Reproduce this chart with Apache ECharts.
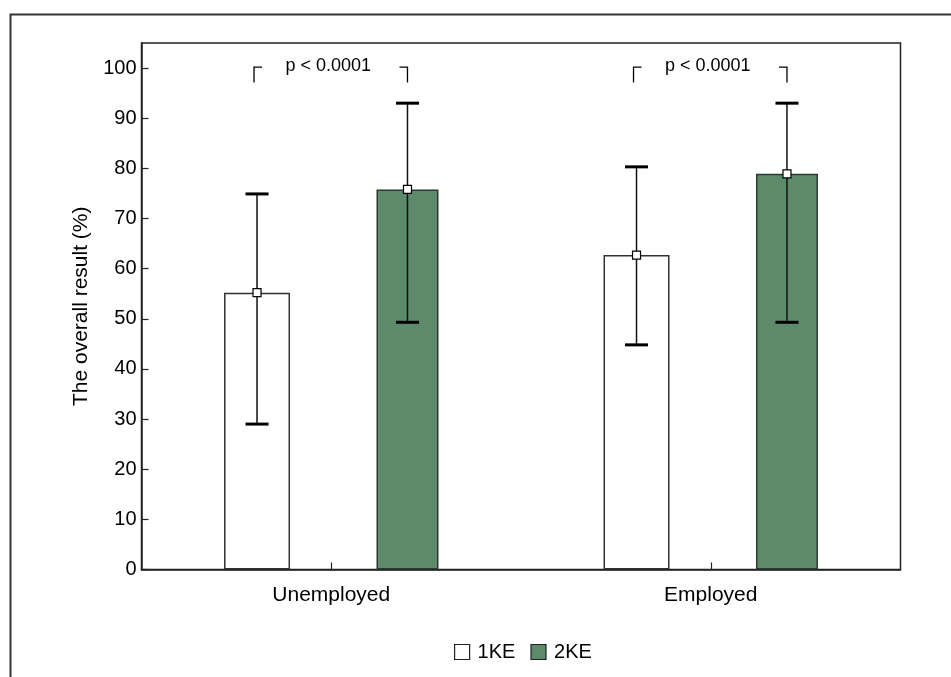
<!DOCTYPE html>
<html><head><meta charset="utf-8">
<script src="https://cdn.jsdelivr.net/npm/echarts@6/dist/echarts.min.js"></script>
<style>html,body{margin:0;padding:0;background:#fff}#c{width:951px;height:677px}</style>
</head><body><div id="c"></div>
<script>
// ---- data ----
const categories = ['Unemployed', 'Employed'];
const seriesNames = ['1KE', '2KE'];
const mean1KE = [55.2, 62.7];
const low1KE = [29.0, 44.8];
const high1KE = [74.9, 80.3];
const mean2KE = [75.8, 78.9];
const low2KE = [49.3, 49.3];
const high2KE = [93.0, 93.0];
const pLabels = ['p < 0.0001', 'p < 0.0001'];
const bracketTop = [100.2, 100.2];
const bracketBottom = [97.1, 97.1];
const yTicks = [0, 10, 20, 30, 40, 50, 60, 70, 80, 90, 100];

// ---- style ----
const FONT = '"Liberation Sans", Arial, Helvetica, sans-serif';
const GREEN = '#5c8a6b';
const barWidths = [66, 62];
const barGap = 1.31;
function barOffset(k) {
  const total = barWidths[0] * (1 + barGap) + barWidths[1];
  let off = -total / 2;
  for (let i = 0; i < k; i++) off += barWidths[i] * (1 + barGap);
  return off + barWidths[k] / 2;
}

function errSeries(k, lows, highs, means) {
  return {
    type: 'custom',
    z: 5,
    silent: true,
    encode: { x: 0, y: [1, 2, 3] },
    data: categories.map((c, i) => [i, lows[i], highs[i], means[i]]),
    renderItem(params, api) {
      const i = api.value(0);
      const pl = api.coord([i, api.value(1)]);
      const ph = api.coord([i, api.value(2)]);
      const pm = api.coord([i, api.value(3)]);
      const x = pl[0] + barOffset(k);
      const cw = 11.5;
      return {
        type: 'group',
        children: [
          { type: 'line', shape: { x1: x, y1: ph[1], x2: x, y2: pl[1] }, style: { stroke: '#111', lineWidth: 1.5 } },
          { type: 'line', shape: { x1: x - cw, y1: ph[1], x2: x + cw, y2: ph[1] }, style: { stroke: '#000', lineWidth: 3 } },
          { type: 'line', shape: { x1: x - cw, y1: pl[1], x2: x + cw, y2: pl[1] }, style: { stroke: '#000', lineWidth: 3 } },
          { type: 'rect', shape: { x: x - 4, y: pm[1] - 4, width: 8, height: 8 }, style: { fill: '#fff', stroke: '#000', lineWidth: 1.2 } }
        ]
      };
    }
  };
}

const chart = echarts.init(document.getElementById('c'), null, { renderer: 'canvas' });
chart.setOption({
  animation: false,
  backgroundColor: '#fff',
  textStyle: { fontFamily: FONT },
  graphic: [{
    type: 'polyline',
    shape: { points: [[10.5, 677], [10.5, 14.5], [951, 14.5]] },
    style: { stroke: '#333', lineWidth: 2, fill: null }
  }],
  grid: { left: 141.5, right: 50.5, top: 43, bottom: 107.5, show: true, borderColor: '#222', borderWidth: 1.5, backgroundColor: 'transparent' },
  legend: {
    data: seriesNames,
    left: 449, top: 637,
    icon: 'rect', itemWidth: 15, itemHeight: 15, itemGap: 15,
    itemStyle: { borderColor: '#222', borderWidth: 1.2 },
    textStyle: { fontSize: 20, color: '#000', fontFamily: FONT, padding: [0, 0, 0, 3] }
  },
  xAxis: {
    type: 'category',
    data: categories,
    axisLine: { show: true, lineStyle: { color: '#222', width: 1.5 } },
    axisTick: { show: true, inside: true, length: 7, alignWithLabel: true, lineStyle: { color: '#222', width: 1.2 } },
    axisLabel: { fontSize: 21, color: '#000', margin: 15, fontFamily: FONT },
    splitLine: { show: false }
  },
  yAxis: {
    type: 'value',
    min: 0, max: 105, interval: 10,
    name: 'The overall result (%)',
    nameLocation: 'middle',
    nameGap: 50,
    nameTextStyle: { fontSize: 21, color: '#000', fontFamily: FONT },
    axisLine: { show: true, lineStyle: { color: '#222', width: 1.5 } },
    axisTick: { show: true, inside: true, length: 7, customValues: yTicks, lineStyle: { color: '#222', width: 1.2 } },
    axisLabel: { fontSize: 20, color: '#000', margin: 5, customValues: yTicks, fontFamily: FONT },
    splitLine: { show: false }
  },
  series: [
    {
      name: seriesNames[0], type: 'bar', data: mean1KE,
      barWidth: barWidths[0], barGap: (barGap * 100) + '%',
      itemStyle: { color: '#fff', borderColor: '#333', borderWidth: 1.5 }
    },
    {
      name: seriesNames[1], type: 'bar', data: mean2KE,
      barWidth: barWidths[1], barGap: (barGap * 100) + '%',
      itemStyle: { color: GREEN, borderColor: '#2b3b30', borderWidth: 1.5 }
    },
    errSeries(0, low1KE, high1KE, mean1KE),
    errSeries(1, low2KE, high2KE, mean2KE),
    {
      type: 'custom',
      z: 6,
      silent: true,
      encode: { x: 0, y: [1, 2] },
      data: categories.map((c, i) => [i, bracketTop[i], bracketBottom[i]]),
      renderItem(params, api) {
        const i = api.value(0);
        const pt = api.coord([i, api.value(1)]);
        const pb = api.coord([i, api.value(2)]);
        const xL = pt[0] + barOffset(0) - 3;
        const xR = pt[0] + barOffset(1);
        const arm = 8;
        return {
          type: 'group',
          children: [
            { type: 'polyline', shape: { points: [[xL + arm, pt[1]], [xL, pt[1]], [xL, pb[1]]] }, style: { stroke: '#000', lineWidth: 1.3, fill: null } },
            { type: 'polyline', shape: { points: [[xR - arm, pt[1]], [xR, pt[1]], [xR, pb[1]]] }, style: { stroke: '#000', lineWidth: 1.3, fill: null } },
            { type: 'text', x: pt[0] - 3, y: pt[1] - 1, style: { text: pLabels[i], fill: '#000', font: '18px ' + FONT, align: 'center', verticalAlign: 'middle' } }
          ]
        };
      }
    }
  ]
});
</script>
</body></html>
